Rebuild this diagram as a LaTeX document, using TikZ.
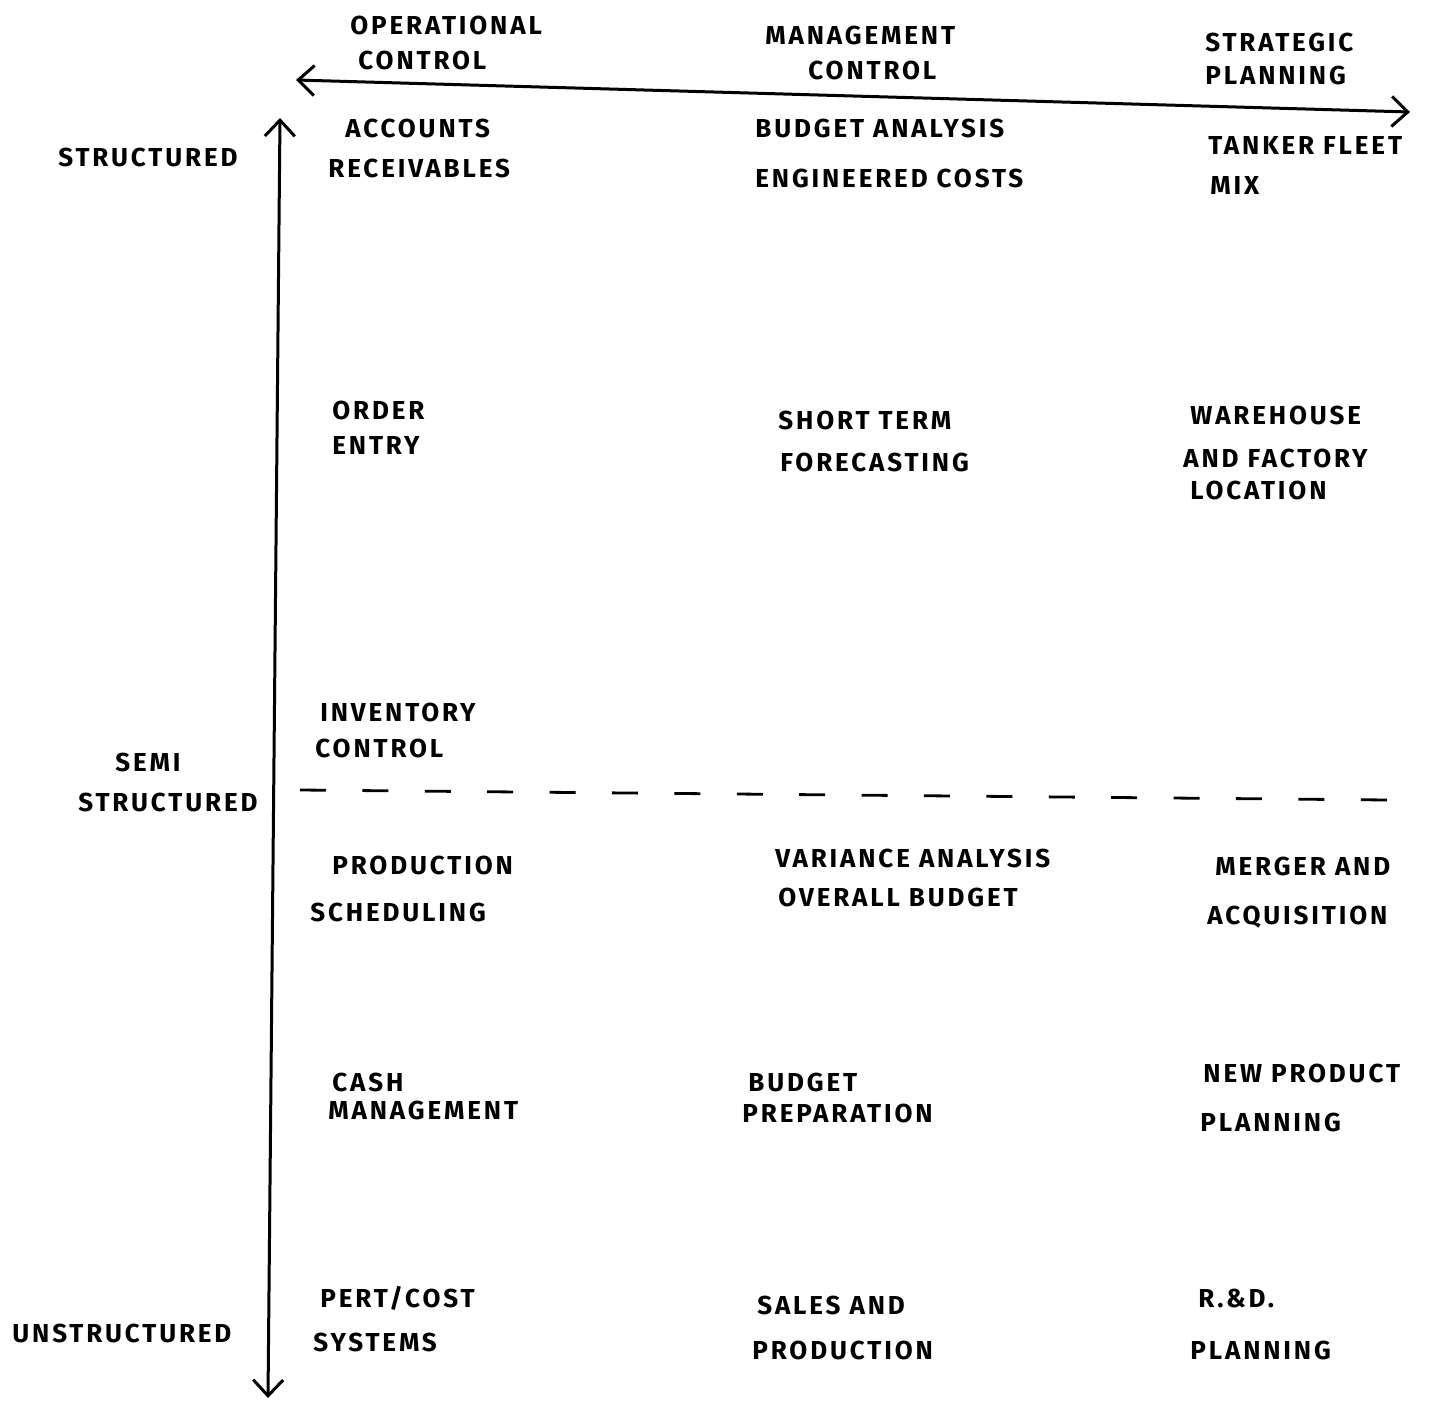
\documentclass[tikz,border=0pt]{standalone}
\usepackage{fontspec}
\setmainfont{Fira Sans}[LetterSpace=11]
\usetikzlibrary{arrows.meta}
\begin{document}
\begin{tikzpicture}[x=0.5pt,y=-0.5pt,
  hand/.style={anchor=west,inner sep=0pt,font=\fontsize{13}{14}\selectfont\bfseries},
  axis/.style={line width=1.5pt,line cap=round,
    {Straight Barb[length=8pt,width=15pt,line width=1.5pt]}-{Straight Barb[length=8pt,width=15pt,line width=1.5pt]}},
  divider/.style={line width=1.4pt,dash pattern=on 13pt off 18.2pt}]
\useasboundingbox (0,0) rectangle (1432,1402);

% axes
\coordinate (hl) at (296,80);
\coordinate (hr) at (1410,112);
\coordinate (vt) at (280,118);
\coordinate (vb) at (268,1398);
\draw[axis] (hl) -- (hr);
\draw[axis] (vt) -- (vb);

% boundary between structured and unstructured decisions
\coordinate (dl) at (300,790);
\coordinate (dr) at (1388,800);
\draw[divider] (dl) -- (dr);

% column headings
\node[hand] (oc1) at (350,25) {OPERATIONAL};
\node[hand] (oc2) at (358,60) {CONTROL};
\node[hand] (mc1) at (765,35) {MANAGEMENT};
\node[hand] (mc2) at (808,70) {CONTROL};
\node[hand] (sp1) at (1205,42) {STRATEGIC};
\node[hand] (sp2) at (1205,75) {PLANNING};

% row headings
\node[hand] (st) at (58,157) {STRUCTURED};
\node[hand] (ss1) at (115,762) {SEMI};
\node[hand] (ss2) at (78,802) {STRUCTURED};
\node[hand] (un) at (12,1333) {UNSTRUCTURED};

% operational control column
\node[hand] (ar1) at (345,128) {ACCOUNTS};
\node[hand] (ar2) at (328,168) {RECEIVABLES};
\node[hand] (oe1) at (332,410) {ORDER};
\node[hand] (oe2) at (332,445) {ENTRY};
\node[hand] (ic1) at (320,712) {INVENTORY};
\node[hand] (ic2) at (315,748) {CONTROL};
\node[hand] (ps1) at (332,865) {PRODUCTION};
\node[hand] (ps2) at (310,912) {SCHEDULING};
\node[hand] (cm1) at (332,1082) {CASH};
\node[hand] (cm2) at (328,1110) {MANAGEMENT};
\node[hand] (pc1) at (320,1298) {PERT/COST};
\node[hand] (pc2) at (313,1342) {SYSTEMS};

% management control column
\node[hand] (ba1) at (755,128) {BUDGET ANALYSIS};
\node[hand] (ba2) at (755,178) {ENGINEERED COSTS};
\node[hand] (sf1) at (778,420) {SHORT TERM};
\node[hand] (sf2) at (780,462) {FORECASTING};
\node[hand] (va1) at (775,858) {VARIANCE ANALYSIS};
\node[hand] (va2) at (778,897) {OVERALL BUDGET};
\node[hand] (bp1) at (748,1082) {BUDGET};
\node[hand] (bp2) at (742,1113) {PREPARATION};
\node[hand] (sa1) at (757,1305) {SALES AND};
\node[hand] (sa2) at (752,1350) {PRODUCTION};

% strategic planning column
\node[hand] (tf1) at (1208,145) {TANKER FLEET};
\node[hand] (tf2) at (1210,185) {MIX};
\node[hand] (wf1) at (1190,415) {WAREHOUSE};
\node[hand] (wf2) at (1183,458) {AND FACTORY};
\node[hand] (wf3) at (1190,490) {LOCATION};
\node[hand] (ma1) at (1215,866) {MERGER AND};
\node[hand] (ma2) at (1207,917) {ACQUISITION};
\node[hand] (np1) at (1203,1073) {NEW PRODUCT};
\node[hand] (np2) at (1200,1122) {PLANNING};
\node[hand] (rd1) at (1198,1298) {R.\&D.};
\node[hand] (rd2) at (1190,1350) {PLANNING};
\end{tikzpicture}
\end{document}
